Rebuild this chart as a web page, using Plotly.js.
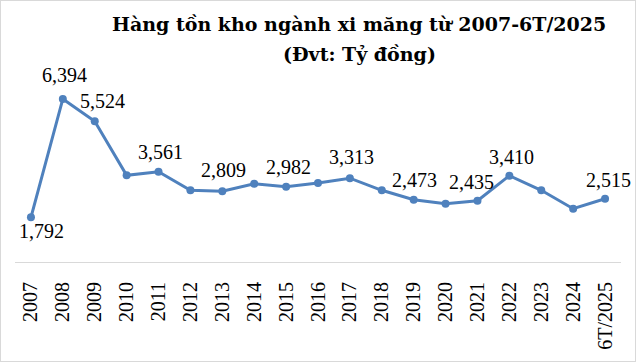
<!DOCTYPE html>
<html>
<head>
<meta charset="utf-8">
<script src="https://cdn.plot.ly/plotly-3.0.1.min.js"></script>
<style>
  html, body { margin: 0; padding: 0; background: #fff; }
  #wrap { width: 636px; height: 362px; box-sizing: border-box; border: 1px solid #d9d9d9; }
  #chart { width: 634px; height: 360px; }
</style>
</head>
<body>
<div id="wrap"><div id="chart"></div></div>
<script>
// Data
const years = ["2007","2008","2009","2010","2011","2012","2013","2014","2015","2016",
               "2017","2018","2019","2020","2021","2022","2023","2024","6T/2025"];
const inventory = [1792, 6394, 5524, 3426, 3561, 2842, 2809, 3099, 2982, 3126,
                   3313, 2842, 2473, 2321, 2435, 3410, 2842, 2126, 2515];
const labeled = [true, true, true, false, true, false, true, false, true, false,
                 true, false, true, false, true, true, false, false, true];
// label offsets (px) relative to each point
const labelDx = [11, 2, 8, 0, 2, 0, 1, 0, 2, 0, 2, 0, 1, 0, -6, 2, 0, 0, 3];
const labelDy = [-14, 24, 20, 0, 20, 0, 21, 0, 20, 0, 21, 0, 20, 0, 19, 19, 0, 0, 19];

const fmt = v => v.toLocaleString('en-US');
const serif = "'Liberation Serif', 'DejaVu Serif', serif";

const annotations = [];
years.forEach((y, i) => {
  if (!labeled[i]) return;
  annotations.push({
    x: i, y: inventory[i], xref: 'x', yref: 'y',
    text: fmt(inventory[i]), showarrow: false,
    xanchor: 'center', yanchor: 'middle',
    xshift: labelDx[i], yshift: labelDy[i],
    font: { family: serif, size: 20, color: '#000' }
  });
});
annotations.push({
  text: '<b>Hàng tồn kho ngành xi măng từ 2007-6T/2025</b>',
  xref: 'paper', yref: 'paper', x: (359 - 15) / 606, y: 1, yshift: 60,
  xanchor: 'center', yanchor: 'middle', showarrow: false,
  font: { family: "'DejaVu Serif', serif", size: 19, color: '#000' }
});
annotations.push({
  text: '<b>(Đvt: Tỷ đồng)</b>',
  xref: 'paper', yref: 'paper', x: (359 - 15) / 606, y: 1, yshift: 30,
  xanchor: 'center', yanchor: 'middle', showarrow: false,
  font: { family: "'DejaVu Serif', serif", size: 19, color: '#000' }
});

const trace = {
  type: 'scatter', mode: 'lines+markers',
  x: years, y: inventory,
  line: { color: '#4F81BD', width: 3 },
  marker: { color: '#4F81BD', size: 8 },
  hoverinfo: 'x+y'
};

const layout = {
  width: 634, height: 360,
  margin: { l: 14, r: 14, t: 83, b: 99, pad: 0 },
  paper_bgcolor: '#fff', plot_bgcolor: '#fff',
  showlegend: false,
  xaxis: {
    type: 'category', range: [-0.5, years.length - 0.5],
    showline: true, linecolor: '#d9d9d9', linewidth: 1,
    showgrid: false, zeroline: false,
    ticks: 'outside', ticklen: 11, tickcolor: 'rgba(0,0,0,0)',
    tickangle: -90,
    tickfont: { family: serif, size: 20, color: '#000' },
    fixedrange: true
  },
  yaxis: {
    visible: false, range: [53, 6976], fixedrange: true
  },
  annotations: annotations
};

Plotly.newPlot('chart', [trace], layout, { displayModeBar: false, staticPlot: true });
</script>
</body>
</html>
